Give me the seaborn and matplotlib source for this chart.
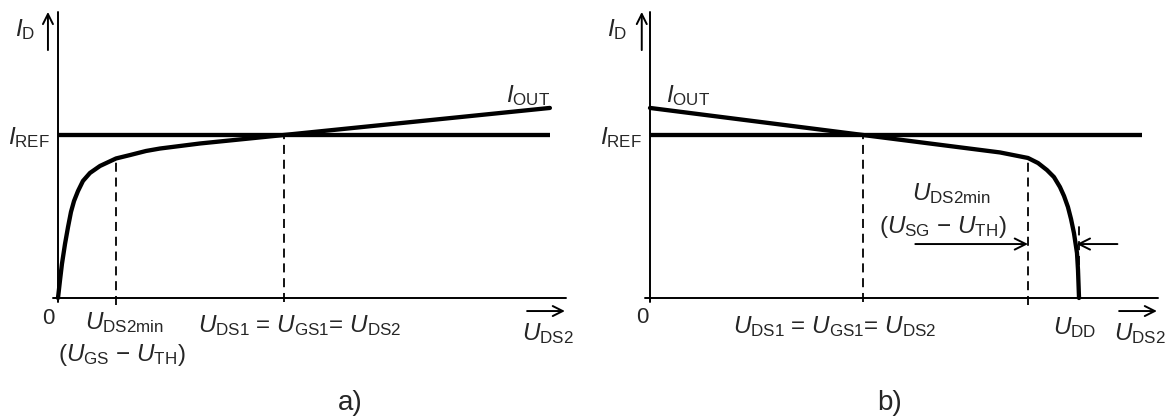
import numpy as np
import matplotlib
matplotlib.use("Agg")
import matplotlib.pyplot as plt
import seaborn as sns

# ---- characteristic data (U in V, I normalised to I_REF) ----
# a) NMOS current mirror output: rises from 0, knee at U_DS2min, then slowly rising
u_a = [0, 0.018, 0.035, 0.062, 0.089, 0.115, 0.142, 0.177, 0.221, 0.283,
       0.372, 0.514, 0.638, 0.780, 0.903, 1.258, 2.0, 4.357]
i_a = [0, 0.110, 0.209, 0.331, 0.436, 0.528, 0.595, 0.656, 0.718, 0.767,
       0.810, 0.856, 0.877, 0.902, 0.917, 0.948, 1.0, 1.166]

# b) PMOS current mirror output: slowly falling, collapses near U_DD
u_b = [0, 1.887, 3.100, 3.348, 3.437, 3.516, 3.578, 3.631, 3.667, 3.702,
       3.729, 3.755, 3.782, 3.791, 3.800]
i_b = [1.166, 1.0, 0.893, 0.859, 0.828, 0.785, 0.742, 0.681, 0.626, 0.558,
       0.485, 0.399, 0.276, 0.172, 0.0]

i_ref = 1.0
i_ref_end = 4.357
u_axis_end = 4.5
i_axis_end = 1.755

u_ds2min_a = 0.514
u_ds1_a = 2.0
u_ds1_b = 1.887
u_ds2min_b = 3.348
u_dd = 3.8

sns.set_theme(style="white")
plt.rcParams["font.family"] = ["Liberation Sans", "DejaVu Sans"]
plt.rcParams["mathtext.fontset"] = "custom"
plt.rcParams["mathtext.rm"] = "Liberation Sans"
plt.rcParams["mathtext.it"] = "Liberation Sans:italic"
plt.rcParams["mathtext.bf"] = "Liberation Sans:bold"
plt.rcParams["mathtext.default"] = "it"

fig = plt.figure(figsize=(11.7, 4.19), dpi=100)
ax_a = fig.add_axes([0, 0, 0.5, 1])
ax_b = fig.add_axes([0.5, 0, 0.5, 1])

ax_a.set_xlim(-0.5137, 4.668)
ax_b.set_xlim(-0.5757, 4.6058)
for ax in (ax_a, ax_b):
    ax.set_ylim(-0.7423, 1.8282)
    ax.axis("off")

K = "black"
THICK = 3.1
THIN = 1.4
FS = 17.5
dash = (0, (5, 3.2))


def sym(name, sub):
    return r"$\mathit{%s}_{\mathrm{%s}}$" % (name, sub)


def axes_frame(ax, arrow_x):
    # coordinate axes with the small direction arrows beside them
    ax.plot([-0.044, u_axis_end], [0, 0], color=K, lw=THIN, clip_on=False)
    ax.plot([0, 0], [-0.025, i_axis_end], color=K, lw=THIN, clip_on=False)
    ax.annotate("", xy=(arrow_x, i_axis_end), xytext=(arrow_x, 1.521),
                arrowprops=dict(arrowstyle="->", lw=THIN, color=K,
                                mutation_scale=18, shrinkA=0, shrinkB=0))
    ax.annotate("", xy=(u_axis_end - 0.01, -0.08), xytext=(u_axis_end - 0.345, -0.08),
                arrowprops=dict(arrowstyle="->", lw=THIN, color=K,
                                mutation_scale=18, shrinkA=0, shrinkB=0))
    ax.text(-0.29, 1.644, sym("I", "D"), fontsize=FS, ha="center", va="center")
    ax.text(-0.071, 0.982, sym("I", "REF"), fontsize=FS, ha="right", va="center")
    ax.text(4.335, -0.221, sym("U", "DS2"), fontsize=FS, ha="center", va="center")
    ax.plot([0, i_ref_end], [i_ref, i_ref], color=K, lw=THICK,
            solid_capstyle="butt")


def vdash(ax, u, top, bottom=-0.035):
    ax.plot([u, u], [bottom, top], color=K, lw=1.3, linestyle=dash,
            clip_on=False)


eq_label = sym("U", "DS1") + " = " + sym("U", "GS1") + "= " + sym("U", "DS2")

# ---------------- a) ----------------
axes_frame(ax_a, -0.089)
sns.lineplot(x=u_a, y=i_a, ax=ax_a, color=K, lw=THICK, sort=False,
             estimator=None)
vdash(ax_a, u_ds2min_a, np.interp(u_ds2min_a, u_a, i_a), -0.043)
vdash(ax_a, u_ds1_a, i_ref, -0.025)
ax_a.text(-0.089, -0.123, "0", fontsize=16, ha="center", va="center")
ax_a.text(4.163, 1.245, sym("I", "OUT"), fontsize=FS, ha="center", va="center")
ax_a.text(0.585, -0.153, sym("U", "DS2min"), fontsize=FS, ha="center", va="center")
ax_a.text(0.567, -0.35, "(" + sym("U", "GS") + " − " + sym("U", "TH") + ")",
          fontsize=FS, ha="center", va="center")
ax_a.text(2.143, -0.172, eq_label, fontsize=FS, ha="center", va="center")
ax_a.text(2.586, -0.644, "a)", fontsize=20, ha="center", va="center")

# ---------------- b) ----------------
axes_frame(ax_b, -0.073)
sns.lineplot(x=u_b, y=i_b, ax=ax_b, color=K, lw=THICK, sort=False,
             estimator=None)
vdash(ax_b, u_ds1_b, i_ref, -0.025)
vdash(ax_b, u_ds2min_b, np.interp(u_ds2min_b, u_b, i_b), -0.04)
ax_b.plot([u_dd, u_dd], [0.2, 0.44], color=K, lw=1.3, linestyle=dash)

y_dim = 0.331
ax_b.annotate("", xy=(u_ds2min_b, y_dim), xytext=(2.35, y_dim),
              arrowprops=dict(arrowstyle="->", lw=THIN, color=K,
                              mutation_scale=20, shrinkA=0, shrinkB=0))
ax_b.annotate("", xy=(u_dd - 0.02, y_dim), xytext=(4.14, y_dim),
              arrowprops=dict(arrowstyle="->", lw=THIN, color=K,
                              mutation_scale=20, shrinkA=0, shrinkB=0))

ax_b.text(-0.071, -0.117, "0", fontsize=16, ha="center", va="center")
ax_b.text(0.337, 1.245, sym("I", "OUT"), fontsize=FS, ha="center", va="center")
ax_b.text(1.639, -0.178, eq_label, fontsize=FS, ha="center", va="center")
ax_b.text(3.765, -0.184, sym("U", "DD"), fontsize=FS, ha="center", va="center")
ax_b.text(2.666, 0.638, sym("U", "DS2min"), fontsize=FS, ha="center", va="center")
ax_b.text(2.595, 0.436, "(" + sym("U", "SG") + " − " + sym("U", "TH") + ")",
          fontsize=FS, ha="center", va="center")
ax_b.text(2.125, -0.644, "b)", fontsize=20, ha="center", va="center")

fig.savefig("out.png", dpi=100, facecolor="white")
